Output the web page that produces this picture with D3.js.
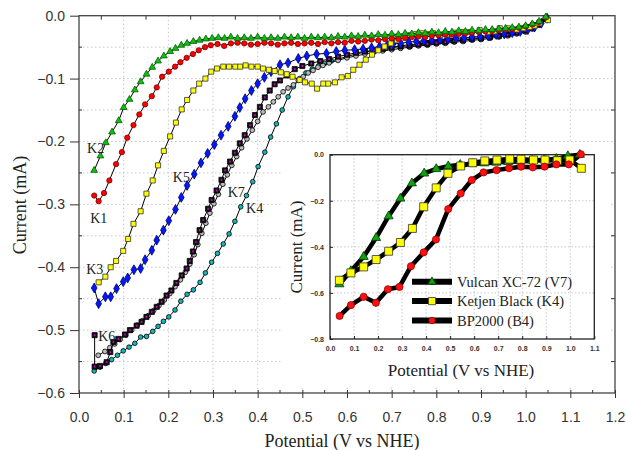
<!DOCTYPE html>
<html>
<head>
<meta charset="utf-8">
<script src="https://cdn.jsdelivr.net/npm/d3@7"></script>
<style>
  body { margin: 0; background: #fff; }
  svg { display: block; }
</style>
</head>
<body>
<div id="chart"></div>
<script>
// main plot curves, [potential V, current mA]
var k2 = [[0.034,-0.246],[0.048,-0.223],[0.060,-0.202],[0.074,-0.185],[0.089,-0.167],[0.100,-0.146],[0.113,-0.133],[0.125,-0.118],[0.138,-0.105],[0.151,-0.093],[0.164,-0.082],[0.177,-0.072],[0.190,-0.064],[0.204,-0.057],[0.216,-0.052],[0.229,-0.047],[0.242,-0.044],[0.256,-0.041],[0.270,-0.039],[0.284,-0.037],[0.298,-0.036],[0.312,-0.035],[0.326,-0.036],[0.340,-0.034],[0.355,-0.036],[0.370,-0.035],[0.385,-0.036],[0.400,-0.034],[0.415,-0.036],[0.430,-0.035],[0.445,-0.036],[0.460,-0.034],[0.475,-0.035],[0.490,-0.034],[0.505,-0.036],[0.520,-0.034],[0.535,-0.035],[0.550,-0.034],[0.565,-0.035],[0.580,-0.033],[0.595,-0.034],[0.610,-0.032],[0.625,-0.033],[0.640,-0.031],[0.655,-0.032],[0.670,-0.030],[0.685,-0.031],[0.700,-0.029],[0.715,-0.030],[0.730,-0.028],[0.745,-0.029],[0.760,-0.027],[0.775,-0.028],[0.790,-0.026],[0.805,-0.027],[0.820,-0.025],[0.835,-0.026],[0.850,-0.024],[0.865,-0.025],[0.880,-0.023],[0.895,-0.024],[0.910,-0.022],[0.925,-0.022],[0.940,-0.021],[0.955,-0.020],[0.970,-0.019],[0.985,-0.018],[1.000,-0.016],[1.015,-0.013],[1.030,-0.009],[1.045,-0.002]];
var k1 = [[0.034,-0.286],[0.044,-0.295],[0.056,-0.282],[0.068,-0.262],[0.083,-0.236],[0.096,-0.217],[0.108,-0.194],[0.122,-0.174],[0.135,-0.157],[0.148,-0.141],[0.163,-0.128],[0.174,-0.114],[0.186,-0.097],[0.201,-0.089],[0.215,-0.081],[0.227,-0.074],[0.241,-0.067],[0.255,-0.061],[0.268,-0.055],[0.282,-0.050],[0.295,-0.047],[0.310,-0.045],[0.325,-0.048],[0.340,-0.044],[0.355,-0.043],[0.370,-0.044],[0.385,-0.046],[0.400,-0.045],[0.415,-0.043],[0.430,-0.044],[0.445,-0.046],[0.460,-0.044],[0.475,-0.043],[0.490,-0.045],[0.505,-0.044],[0.520,-0.043],[0.535,-0.045],[0.550,-0.042],[0.565,-0.044],[0.580,-0.042],[0.595,-0.043],[0.610,-0.040],[0.625,-0.041],[0.640,-0.040],[0.655,-0.038],[0.670,-0.039],[0.685,-0.037],[0.700,-0.036],[0.715,-0.037],[0.730,-0.035],[0.745,-0.034],[0.760,-0.033],[0.775,-0.034],[0.790,-0.032],[0.805,-0.031],[0.820,-0.030],[0.835,-0.030],[0.850,-0.029],[0.865,-0.028],[0.880,-0.027],[0.895,-0.026],[0.910,-0.025],[0.925,-0.024],[0.940,-0.023],[0.955,-0.022],[0.970,-0.021],[0.985,-0.019],[1.000,-0.017],[1.015,-0.014],[1.030,-0.010],[1.045,-0.003]];
var k3 = [[0.044,-0.424],[0.059,-0.415],[0.071,-0.400],[0.083,-0.390],[0.099,-0.374],[0.110,-0.355],[0.122,-0.331],[0.138,-0.311],[0.151,-0.283],[0.165,-0.262],[0.177,-0.238],[0.190,-0.215],[0.204,-0.192],[0.217,-0.170],[0.230,-0.149],[0.242,-0.134],[0.256,-0.119],[0.269,-0.108],[0.283,-0.100],[0.296,-0.089],[0.309,-0.084],[0.323,-0.081],[0.336,-0.081],[0.350,-0.081],[0.361,-0.081],[0.373,-0.079],[0.386,-0.081],[0.400,-0.081],[0.412,-0.084],[0.425,-0.086],[0.438,-0.088],[0.452,-0.090],[0.465,-0.093],[0.478,-0.097],[0.494,-0.102],[0.506,-0.106],[0.521,-0.108],[0.533,-0.116],[0.547,-0.108],[0.558,-0.108],[0.573,-0.106],[0.588,-0.098],[0.602,-0.096],[0.614,-0.086],[0.628,-0.078],[0.642,-0.070],[0.656,-0.062],[0.670,-0.055],[0.684,-0.049],[0.698,-0.044],[0.712,-0.039],[0.727,-0.035],[0.741,-0.031],[0.755,-0.029],[0.768,-0.028],[0.780,-0.029],[0.793,-0.028],[0.808,-0.031],[0.823,-0.030],[0.840,-0.027],[0.860,-0.026],[0.875,-0.026],[0.897,-0.023],[0.915,-0.026],[0.930,-0.025],[0.942,-0.020],[0.960,-0.020],[0.980,-0.022],[0.995,-0.020],[1.009,-0.018],[1.020,-0.016],[1.031,-0.012],[1.050,-0.007]];
var k5 = [[0.034,-0.433],[0.044,-0.458],[0.059,-0.447],[0.071,-0.447],[0.084,-0.434],[0.099,-0.423],[0.109,-0.417],[0.123,-0.404],[0.138,-0.402],[0.148,-0.388],[0.163,-0.373],[0.174,-0.357],[0.189,-0.341],[0.201,-0.326],[0.216,-0.308],[0.229,-0.289],[0.242,-0.270],[0.258,-0.252],[0.273,-0.234],[0.288,-0.219],[0.303,-0.205],[0.318,-0.190],[0.334,-0.176],[0.349,-0.160],[0.360,-0.146],[0.372,-0.132],[0.386,-0.119],[0.400,-0.108],[0.415,-0.098],[0.430,-0.089],[0.450,-0.078],[0.468,-0.075],[0.491,-0.068],[0.510,-0.064],[0.532,-0.061],[0.554,-0.060],[0.576,-0.057],[0.595,-0.055],[0.617,-0.054],[0.636,-0.053],[0.655,-0.051],[0.673,-0.049],[0.690,-0.047],[0.703,-0.045],[0.720,-0.044],[0.738,-0.042],[0.755,-0.041],[0.772,-0.040],[0.790,-0.039],[0.808,-0.038],[0.826,-0.037],[0.844,-0.036],[0.862,-0.035],[0.880,-0.034],[0.898,-0.033],[0.916,-0.032],[0.934,-0.030],[0.952,-0.029],[0.970,-0.027],[0.988,-0.025],[1.005,-0.022],[1.020,-0.018],[1.035,-0.012],[1.048,-0.004]];
var k6 = [[0.035,-0.508],[0.035,-0.558],[0.047,-0.557],[0.062,-0.551],[0.070,-0.535],[0.077,-0.519],[0.088,-0.514],[0.103,-0.507],[0.114,-0.500],[0.129,-0.493],[0.140,-0.487],[0.151,-0.479],[0.163,-0.471],[0.174,-0.463],[0.185,-0.455],[0.196,-0.445],[0.207,-0.437],[0.218,-0.425],[0.230,-0.413],[0.241,-0.402],[0.248,-0.390],[0.255,-0.375],[0.262,-0.360],[0.270,-0.341],[0.278,-0.325],[0.289,-0.307],[0.297,-0.293],[0.308,-0.278],[0.319,-0.261],[0.327,-0.246],[0.338,-0.232],[0.349,-0.218],[0.360,-0.203],[0.371,-0.190],[0.383,-0.174],[0.394,-0.158],[0.405,-0.145],[0.416,-0.130],[0.427,-0.119],[0.438,-0.109],[0.450,-0.103],[0.465,-0.095],[0.483,-0.085],[0.500,-0.080],[0.520,-0.076],[0.540,-0.072],[0.560,-0.069],[0.580,-0.065],[0.600,-0.062],[0.620,-0.059],[0.640,-0.057],[0.660,-0.055],[0.680,-0.053],[0.700,-0.051],[0.720,-0.049],[0.740,-0.048],[0.760,-0.046],[0.780,-0.045],[0.800,-0.043],[0.820,-0.042],[0.840,-0.040],[0.860,-0.039],[0.880,-0.037],[0.900,-0.036],[0.920,-0.034],[0.940,-0.032],[0.960,-0.030],[0.980,-0.027],[1.000,-0.024],[1.015,-0.020],[1.030,-0.014],[1.045,-0.005]];
var k7 = [[0.043,-0.540],[0.058,-0.534],[0.069,-0.528],[0.080,-0.522],[0.092,-0.515],[0.105,-0.508],[0.118,-0.500],[0.130,-0.492],[0.142,-0.485],[0.155,-0.477],[0.167,-0.469],[0.179,-0.461],[0.191,-0.452],[0.203,-0.442],[0.215,-0.431],[0.227,-0.420],[0.238,-0.408],[0.248,-0.395],[0.258,-0.380],[0.266,-0.364],[0.275,-0.346],[0.284,-0.330],[0.293,-0.314],[0.302,-0.299],[0.312,-0.284],[0.322,-0.268],[0.332,-0.253],[0.342,-0.238],[0.353,-0.224],[0.364,-0.210],[0.376,-0.196],[0.388,-0.182],[0.400,-0.168],[0.412,-0.153],[0.424,-0.145],[0.435,-0.137],[0.446,-0.129],[0.457,-0.121],[0.468,-0.115],[0.480,-0.110],[0.491,-0.103],[0.502,-0.097],[0.513,-0.091],[0.524,-0.087],[0.535,-0.082],[0.546,-0.079],[0.560,-0.075],[0.580,-0.071],[0.600,-0.067],[0.620,-0.064],[0.640,-0.061],[0.660,-0.058],[0.680,-0.056],[0.700,-0.054],[0.720,-0.052],[0.740,-0.050],[0.760,-0.048],[0.780,-0.047],[0.800,-0.045],[0.820,-0.044],[0.840,-0.042],[0.860,-0.041],[0.880,-0.039],[0.900,-0.038],[0.920,-0.036],[0.940,-0.034],[0.960,-0.032],[0.980,-0.029],[1.000,-0.026],[1.015,-0.021],[1.030,-0.015],[1.045,-0.006]];
var k4 = [[0.034,-0.565],[0.047,-0.559],[0.060,-0.553],[0.073,-0.547],[0.086,-0.540],[0.099,-0.533],[0.112,-0.527],[0.125,-0.521],[0.138,-0.511],[0.151,-0.510],[0.165,-0.502],[0.177,-0.494],[0.189,-0.486],[0.201,-0.479],[0.215,-0.468],[0.228,-0.454],[0.242,-0.443],[0.256,-0.436],[0.271,-0.424],[0.283,-0.409],[0.297,-0.392],[0.310,-0.378],[0.323,-0.363],[0.336,-0.347],[0.349,-0.327],[0.362,-0.304],[0.375,-0.286],[0.389,-0.264],[0.401,-0.240],[0.416,-0.217],[0.429,-0.193],[0.442,-0.172],[0.455,-0.150],[0.468,-0.129],[0.480,-0.113],[0.494,-0.100],[0.508,-0.091],[0.522,-0.085],[0.536,-0.080],[0.550,-0.076],[0.565,-0.072],[0.580,-0.069],[0.600,-0.065],[0.620,-0.061],[0.640,-0.058],[0.660,-0.055],[0.680,-0.052],[0.700,-0.050],[0.720,-0.048],[0.740,-0.046],[0.760,-0.045],[0.780,-0.043],[0.800,-0.042],[0.820,-0.040],[0.840,-0.039],[0.860,-0.038],[0.880,-0.036],[0.900,-0.035],[0.920,-0.033],[0.940,-0.031],[0.960,-0.029],[0.980,-0.027],[1.000,-0.024],[1.015,-0.019],[1.030,-0.013],[1.045,-0.003]];

// inset curves
var v7 = [[0.039,-0.562],[0.087,-0.505],[0.140,-0.443],[0.192,-0.361],[0.244,-0.267],[0.293,-0.190],[0.341,-0.124],[0.392,-0.081],[0.442,-0.062],[0.492,-0.050],[0.542,-0.044],[0.592,-0.040],[0.642,-0.037],[0.692,-0.034],[0.742,-0.031],[0.792,-0.029],[0.842,-0.026],[0.892,-0.023],[0.942,-0.018],[0.990,-0.006],[1.040,0.0]];
var k4Inset = [[0.039,-0.545],[0.087,-0.513],[0.140,-0.487],[0.192,-0.455],[0.244,-0.419],[0.293,-0.381],[0.343,-0.320],[0.390,-0.226],[0.442,-0.144],[0.491,-0.081],[0.544,-0.049],[0.594,-0.035],[0.644,-0.027],[0.695,-0.023],[0.748,-0.019],[0.795,-0.020],[0.847,-0.023],[0.895,-0.023],[0.946,-0.026],[0.998,-0.023],[1.046,-0.059]];
var b4 = [[0.040,-0.700],[0.087,-0.653],[0.140,-0.617],[0.191,-0.643],[0.241,-0.584],[0.289,-0.574],[0.337,-0.484],[0.390,-0.424],[0.441,-0.368],[0.492,-0.236],[0.544,-0.168],[0.590,-0.110],[0.639,-0.077],[0.693,-0.067],[0.745,-0.059],[0.795,-0.052],[0.844,-0.055],[0.893,-0.052],[0.942,-0.042],[0.994,-0.042],[1.044,0.002]];

var xTicks = [0.0,0.1,0.2,0.3,0.4,0.5,0.6,0.7,0.8,0.9,1.0,1.1,1.2];
var yTicks = [0.0,-0.1,-0.2,-0.3,-0.4,-0.5,-0.6];
var insetXTicks = [0.0,0.1,0.2,0.3,0.4,0.5,0.6,0.7,0.8,0.9,1.0,1.1];
var insetYTicks = [0.0,-0.2,-0.4,-0.6,-0.8];
var curveLabels = [
  {t:"K2", x:0.018, y:-0.219}, {t:"K1", x:0.025, y:-0.330}, {t:"K3", x:0.016, y:-0.410},
  {t:"K5", x:0.210, y:-0.265}, {t:"K7", x:0.333, y:-0.289}, {t:"K4", x:0.374, y:-0.313},
  {t:"K6", x:0.043, y:-0.518}
];
var legendNames = ["Vulcan XC-72 (V7)", "Ketjen Black (K4)", "BP2000 (B4)"];

var W = 626, H = 450;
var svg = d3.select('#chart').append('svg')
  .attr('width', W).attr('height', H)
  .style('background', '#fff');

var margin = {top: 15.7, left: 79, right: 11, bottom: 57};
var width = W - margin.left - margin.right,
    height = H - margin.top - margin.bottom;

var x = d3.scaleLinear().domain([0, 1.2]).range([0, width]);
var y = d3.scaleLinear().domain([-0.6, 0]).range([height, 0]);

var g = svg.append('g')
  .attr('transform', 'translate(' + margin.left + ',' + margin.top + ')');

// dotted grid
var gx = d3.range(1, 12).map(function(i){ return i / 10; });
var gy = d3.range(1, 12).map(function(i){ return -i * 0.05; });
g.selectAll('.vg').data(gx).enter().append('line')
  .attr('x1', function(d){ return x(d); }).attr('x2', function(d){ return x(d); })
  .attr('y1', 0).attr('y2', height)
  .attr('stroke', '#c8c8c8').attr('stroke-dasharray', '1.5,2.5');
g.selectAll('.hg').data(gy).enter().append('line')
  .attr('y1', function(d){ return y(d); }).attr('y2', function(d){ return y(d); })
  .attr('x1', 0).attr('x2', width)
  .attr('stroke', '#c8c8c8').attr('stroke-dasharray', '1.5,2.5');

// axes
var xAxis = d3.axisBottom(x).tickValues(xTicks).tickFormat(d3.format('.1f'))
  .tickSize(5).tickPadding(14);
var xG = g.append('g').attr('transform', 'translate(0,' + height + ')').call(xAxis);
var yAxis = d3.axisLeft(y).tickValues(yTicks).tickFormat(d3.format('.1f'))
  .tickSize(9).tickPadding(5);
var yG = g.append('g').call(yAxis);
[xG, yG].forEach(function(a){
  a.select('.domain').remove();
  a.selectAll('line').attr('stroke', '#333');
  a.selectAll('text').attr('fill', '#333')
    .style('font-family', 'Liberation Sans, Arial, sans-serif').style('font-size', '14px');
});
xG.selectAll('.tick line').attr('y1', -3);

// minor ticks
var minorX = d3.range(0, 12).map(function(i){ return i / 10 + 0.05; });
var minorY = d3.range(0, 6).map(function(i){ return -i / 10 - 0.05; });
g.selectAll('.mxb').data(minorX).enter().append('line')
  .attr('x1', function(d){ return x(d); }).attr('x2', function(d){ return x(d); })
  .attr('y1', height).attr('y2', height - 3).attr('stroke', '#333');
g.selectAll('.mxt').data(minorX).enter().append('line')
  .attr('x1', function(d){ return x(d); }).attr('x2', function(d){ return x(d); })
  .attr('y1', 0).attr('y2', 4).attr('stroke', '#333');
g.selectAll('.myl').data(minorY).enter().append('line')
  .attr('y1', function(d){ return y(d); }).attr('y2', function(d){ return y(d); })
  .attr('x1', 0).attr('x2', 3).attr('stroke', '#333');
g.selectAll('.myr').data(minorY).enter().append('line')
  .attr('y1', function(d){ return y(d); }).attr('y2', function(d){ return y(d); })
  .attr('x1', width).attr('x2', width - 4).attr('stroke', '#333');

g.append('rect').attr('width', width).attr('height', height)
  .attr('fill', 'none').attr('stroke', '#444').attr('stroke-width', 1.3);

// curves
var line = d3.line().x(function(d){ return x(d[0]); }).y(function(d){ return y(d[1]); });

var series = [
  {data: k4, sym: d3.symbolCircle, size: 17, fill: '#10b8b8', stroke: '#000'},
  {data: k7, sym: d3.symbolCircle, size: 18, fill: '#bbbbbb', stroke: '#000'},
  {data: k6, sym: d3.symbolSquare, size: 26, fill: '#111', stroke: '#000', inner: '#d000d0'},
  {data: k5, sym: d3.symbolDiamond, size: 28, fill: '#0018ff', stroke: '#000070'},
  {data: k3, sym: d3.symbolSquare, size: 26, fill: '#ffff00', stroke: '#333'},
  {data: k1, sym: d3.symbolCircle, size: 22, fill: '#ff0000', stroke: '#700'},
  {data: k2, sym: d3.symbolTriangle, size: 20, fill: '#10c010', stroke: '#006000'}
];

series.forEach(function(s){
  g.append('path').datum(s.data).attr('d', line)
    .attr('fill', 'none').attr('stroke', '#000').attr('stroke-width', 1);
  g.selectAll(null).data(s.data).enter().append('path')
    .attr('d', d3.symbol().type(s.sym).size(s.size))
    .attr('transform', function(d){ return 'translate(' + x(d[0]) + ',' + y(d[1]) + ')'; })
    .attr('fill', s.fill).attr('stroke', s.stroke).attr('stroke-width', 0.8);
  if (s.inner) {
    g.selectAll(null).data(s.data).enter().append('rect')
      .attr('x', function(d){ return x(d[0]) - 0.75; })
      .attr('y', function(d){ return y(d[1]) - 1; })
      .attr('width', 1.5).attr('height', 2).attr('fill', s.inner);
  }
});

g.selectAll('.clab').data(curveLabels).enter().append('text')
  .attr('x', function(d){ return x(d.x); })
  .attr('y', function(d){ return y(d.y); })
  .text(function(d){ return d.t; })
  .attr('fill', '#222')
  .style('font-family', 'Liberation Serif, Times New Roman, serif').style('font-size', '14px');

// axis titles
svg.append('text').attr('x', 342).attr('y', 447).attr('text-anchor', 'middle')
  .text('Potential (V vs NHE)').attr('fill', '#222')
  .style('font-family', 'Liberation Serif, Times New Roman, serif').style('font-size', '18px');
svg.append('text').attr('transform', 'translate(26,205) rotate(-90)').attr('text-anchor', 'middle')
  .text('Current (mA)').attr('fill', '#222')
  .style('font-family', 'Liberation Serif, Times New Roman, serif').style('font-size', '18px');

// ---- inset ----
svg.append('rect').attr('x', 283).attr('y', 143).attr('width', 327).attr('height', 243)
  .attr('fill', '#fff');

var ix0 = 330, iy0 = 154.7, iw = 264.3, ih = 184.3;
var ix = d3.scaleLinear().domain([0, 1.1]).range([0, iw]);
var iy = d3.scaleLinear().domain([-0.8, 0]).range([ih, 0]);
var ig = svg.append('g').attr('transform', 'translate(' + ix0 + ',' + iy0 + ')');

ig.selectAll('.ivg').data(d3.range(1, 11).map(function(i){ return i / 10; })).enter().append('line')
  .attr('x1', function(d){ return ix(d); }).attr('x2', function(d){ return ix(d); })
  .attr('y1', 0).attr('y2', ih)
  .attr('stroke', '#c8c8c8').attr('stroke-dasharray', '1.5,2');
ig.selectAll('.ihg').data([-0.2, -0.4, -0.6]).enter().append('line')
  .attr('y1', function(d){ return iy(d); }).attr('y2', function(d){ return iy(d); })
  .attr('x1', 0).attr('x2', iw)
  .attr('stroke', '#c8c8c8').attr('stroke-dasharray', '1.5,2');

var ixAxis = d3.axisBottom(ix).tickValues(insetXTicks).tickFormat(d3.format('.1f'))
  .tickSize(-3).tickPadding(7);
var iyAxis = d3.axisLeft(iy).tickValues(insetYTicks).tickFormat(d3.format('.1f'))
  .tickSize(-3).tickPadding(6);
var ixG = ig.append('g').attr('transform', 'translate(0,' + ih + ')').call(ixAxis);
var iyG = ig.append('g').call(iyAxis);
[ixG, iyG].forEach(function(a){
  a.select('.domain').remove();
  a.selectAll('line').attr('stroke', '#222');
  a.selectAll('text').attr('fill', '#333')
    .style('font-family', 'Liberation Sans, Arial, sans-serif').style('font-size', '7px')
    .style('font-weight', 'bold');
});
ig.append('rect').attr('width', iw).attr('height', ih)
  .attr('fill', 'none').attr('stroke', '#222').attr('stroke-width', 1.3);

var iline = d3.line().x(function(d){ return ix(d[0]); }).y(function(d){ return iy(d[1]); });
var iseries = [
  {data: v7, sym: d3.symbolTriangle, size: 36, fill: '#10a010', stroke: '#004000'},
  {data: k4Inset, sym: d3.symbolSquare, size: 64, fill: '#ffff00', stroke: '#333'},
  {data: b4, sym: d3.symbolCircle, size: 40, fill: '#ff1010', stroke: '#900'}
];
iseries.forEach(function(s){
  ig.append('path').datum(s.data).attr('d', iline)
    .attr('fill', 'none').attr('stroke', '#000').attr('stroke-width', 4.5)
    .attr('stroke-linejoin', 'round');
});
iseries.forEach(function(s){
  ig.selectAll(null).data(s.data).enter().append('path')
    .attr('d', d3.symbol().type(s.sym).size(s.size))
    .attr('transform', function(d){ return 'translate(' + ix(d[0]) + ',' + iy(d[1]) + ')'; })
    .attr('fill', s.fill).attr('stroke', s.stroke).attr('stroke-width', 0.8);
});

// inset legend
var lg = svg.append('g');
legendNames.forEach(function(name, i){
  var ly = 281.7 + i * 19.4;
  var s = iseries[i];
  lg.append('line').attr('x1', 412).attr('x2', 452).attr('y1', ly).attr('y2', ly)
    .attr('stroke', '#000').attr('stroke-width', 6);
  lg.append('path').attr('d', d3.symbol().type(s.sym).size(s.size * 0.8))
    .attr('transform', 'translate(432,' + ly + ')')
    .attr('fill', s.fill).attr('stroke', s.stroke).attr('stroke-width', 0.8);
  lg.append('text').attr('x', 457).attr('y', ly + 5).text(name)
    .attr('fill', '#222')
    .style('font-family', 'Liberation Serif, Times New Roman, serif').style('font-size', '14.5px');
});

svg.append('text').attr('x', 461).attr('y', 376).attr('text-anchor', 'middle')
  .text('Potential (V vs NHE)').attr('fill', '#222')
  .style('font-family', 'Liberation Serif, Times New Roman, serif').style('font-size', '17px');
svg.append('text').attr('transform', 'translate(302,247) rotate(-90)').attr('text-anchor', 'middle')
  .text('Current (mA)').attr('fill', '#222')
  .style('font-family', 'Liberation Serif, Times New Roman, serif').style('font-size', '17px');
</script>
</body>
</html>
